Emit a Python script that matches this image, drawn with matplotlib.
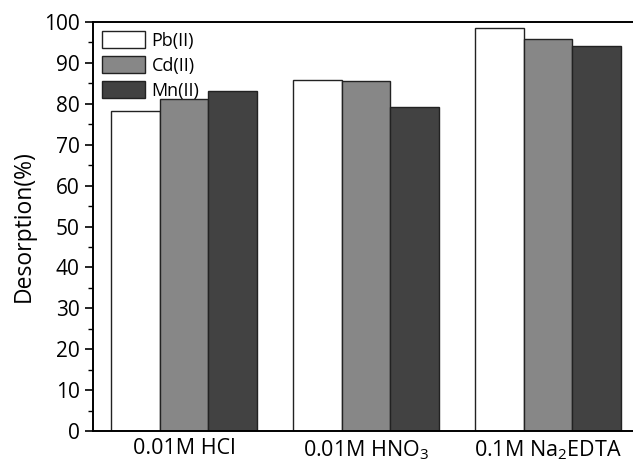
import numpy as np
from matplotlib import pyplot as plt
from matplotlib.ticker import MultipleLocator

plt.rcParams['font.family'] = ['Open Sans', 'DejaVu Sans']
plt.rcParams['mathtext.fontset'] = 'custom'
plt.rcParams['mathtext.rm'] = 'Open Sans'
plt.rcParams['mathtext.default'] = 'regular'

eluents = ['0.01M HCl', '0.01M HNO$_3$', '0.1M Na$_2$EDTA']
metals = ['Pb(II)', 'Cd(II)', 'Mn(II)']
pb = [78.2, 85.8, 98.5]
cd = [81.2, 85.6, 95.9]
mn = [83.1, 79.2, 94.1]
colors = ['white', '#878787', '#424242']

fig = plt.figure(figsize=(6.33, 4.65), dpi=100)
ax = fig.add_axes([0.1469, 0.0731, 1.0095 - 0.1469, 0.9527 - 0.0731])

x = np.arange(len(eluents))
w = 0.266
for i, (vals, lab) in enumerate(zip([pb, cd, mn], metals)):
    ax.bar(x + (i - 1) * w, vals, w, color=colors[i], edgecolor='#222222',
           linewidth=1.0, label=lab)

ax.set_xlim(-0.5, 2.5)
ax.set_ylim(0, 100)
ax.set_xticks(x)
ax.set_xticklabels(eluents, fontsize=15.5)
ax.tick_params(axis='x', length=0, pad=5)
ax.yaxis.set_major_locator(MultipleLocator(10))
ax.yaxis.set_minor_locator(MultipleLocator(5))
ax.tick_params(axis='y', which='major', length=6, width=1.2, labelsize=15, direction='out')
ax.tick_params(axis='y', which='minor', length=3.5, width=1.0, direction='out')
for s in ax.spines.values():
    s.set_linewidth(1.4)
ax.set_ylabel('Desorption(%)', fontsize=16.5, labelpad=6)

ax.legend(loc='upper left', frameon=False, fontsize=13, handlelength=2.4,
          handleheight=1.05, labelspacing=0.36, borderaxespad=0.2,
          borderpad=0.3, handletextpad=0.35)

plt.savefig('out.png')
